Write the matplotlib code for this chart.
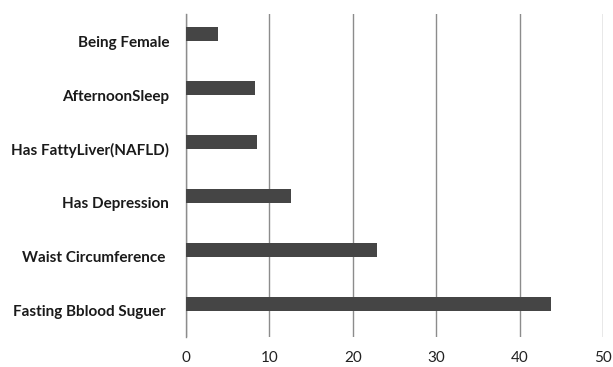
import matplotlib.pyplot as plt
import numpy as np

# Risk factors, listed bottom to top
factors = ['Fasting Bblood Suguer ', 'Waist Circumference ', 'Has Depression',
           'Has FattyLiver(NAFLD)', 'AfternoonSleep', 'Being Female']
scores = [43.8, 22.85, 12.6, 8.55, 8.3, 3.85]
xticks = [0, 10, 20, 30, 40, 50]

plt.rcParams['font.family'] = ['Lato', 'DejaVu Sans']

fig = plt.figure(figsize=(6.13, 3.67), dpi=100)
W, H = 613, 367
ax = fig.add_axes([186 / W, 1 - 337 / H, (603 - 186) / W, (337 - 14) / H])

pos = np.arange(len(factors))
ax.barh(pos, scores, height=0.26, color='#454545', zorder=3)

ax.set_xlim(0, 50)
ax.set_ylim(-0.62, 5.375)
ax.set_xticks(xticks)
ax.set_xticklabels([str(t) for t in xticks], fontsize=11, color='#222222')

# category labels sit at the centre of each band, bars a little above
ax.set_yticks(pos - 0.13)
ax.set_yticklabels(factors, fontsize=11, fontweight='bold', color='#1a1a1a')

ax.tick_params(axis='both', length=0)
ax.tick_params(axis='y', pad=12)
ax.tick_params(axis='x', pad=10)

ax.grid(axis='x', color='#8c8c8c', linewidth=1.0, zorder=0)
for side in ['top', 'right', 'bottom']:
    ax.spines[side].set_visible(False)
ax.spines['left'].set_color('#8c8c8c')
ax.spines['left'].set_linewidth(1.0)

fig.savefig('out.png', dpi=100, facecolor='white')
